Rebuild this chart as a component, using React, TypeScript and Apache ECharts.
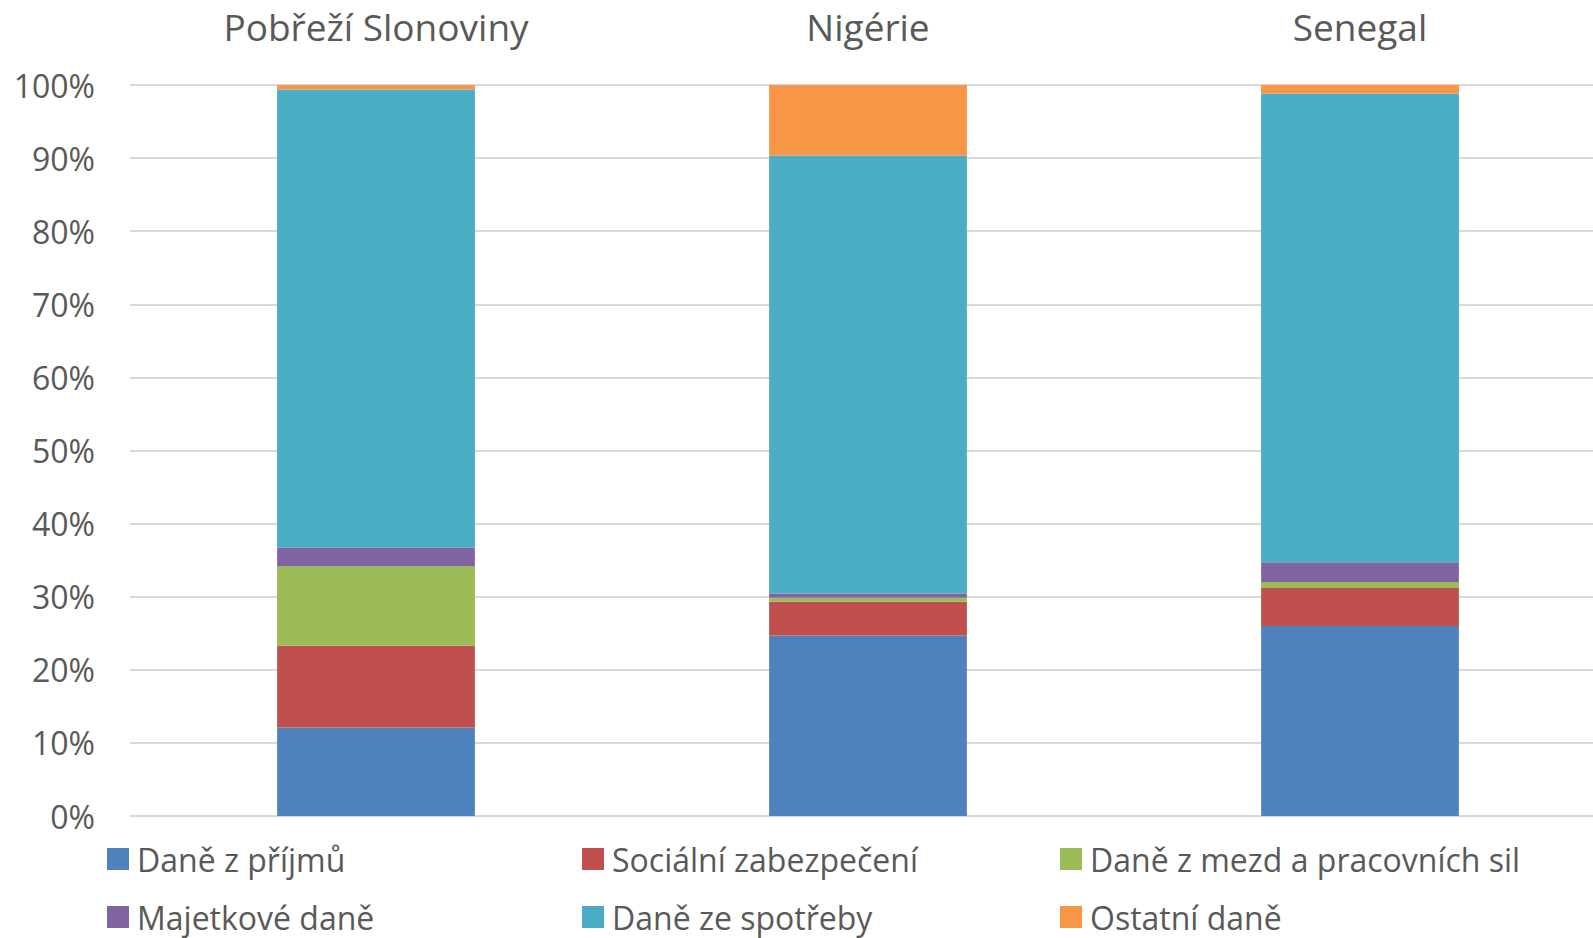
import React, { useEffect, useRef } from "react";
import * as echarts from "echarts";

const categories = ["Pobřeží Slonoviny", "Nigérie", "Senegal"];
const seriesNames = [
  "Daně z příjmů",
  "Sociální zabezpečení",
  "Daně z mezd a pracovních sil",
  "Majetkové daně",
  "Daně ze spotřeby",
  "Ostatní daně",
];
const incomeTax = [12.1, 24.7, 26.0];
const socialSecurity = [11.2, 4.6, 5.2];
const payrollTax = [10.9, 0.55, 0.8];
const propertyTax = [2.5, 0.6, 2.7];
const consumptionTax = [62.7, 59.9, 64.1];
const otherTax = [0.6, 9.65, 1.2];
const colors = ["#4f81bd", "#c0504d", "#9bbb59", "#8064a2", "#4bacc6", "#f79646"];

const FONT = "'Open Sans', sans-serif";
const TEXT = "#595959";

export default function App() {
  const ref = useRef<HTMLDivElement>(null);
  useEffect(() => {
    const chart = echarts.init(ref.current!, null, { renderer: "svg" });
    const values = [incomeTax, socialSecurity, payrollTax, propertyTax, consumptionTax, otherTax];
    const colLeft = [107, 582, 1060];
    const rowTop = [843, 901];
    const legends = seriesNames.map((name, i) => ({
      orient: "horizontal",
      left: colLeft[i % 3],
      top: rowTop[Math.floor(i / 3)],
      itemWidth: 22,
      itemHeight: 22,
      padding: 0,
      icon: "rect",
      data: [name],
      textStyle: { fontFamily: FONT, fontSize: 32, color: TEXT, padding: [0, 0, 0, 3] },
    }));
    chart.setOption({
      animation: false,
      color: colors,
      grid: {
        left: 130,
        top: 85,
        width: 1476,
        height: 731,
        containLabel: false,
        outerBoundsMode: "none",
      },
      legend: legends,
      xAxis: {
        type: "category",
        position: "top",
        data: categories,
        axisLine: { show: false },
        axisTick: { show: false },
        axisLabel: { fontFamily: FONT, fontSize: 37, color: TEXT, margin: 40 },
      },
      yAxis: {
        type: "value",
        min: 0,
        max: 100,
        interval: 10,
        axisLine: { show: false },
        axisTick: { show: false },
        axisLabel: { fontFamily: FONT, fontSize: 32, color: TEXT, margin: 35, formatter: "{value}%" },
        splitLine: { lineStyle: { color: "#d9d9d9", width: 2 } },
      },
      series: seriesNames.map((name, i) => ({
        name,
        type: "bar",
        stack: "total",
        barWidth: "40.2%",
        data: values[i],
        itemStyle: { color: colors[i] },
      })),
    });
    return () => chart.dispose();
  }, []);
  return (
    <div
      ref={ref}
      style={{ position: "fixed", left: 0, top: 0, width: 1593, height: 938, background: "#fff" }}
    />
  );
}
